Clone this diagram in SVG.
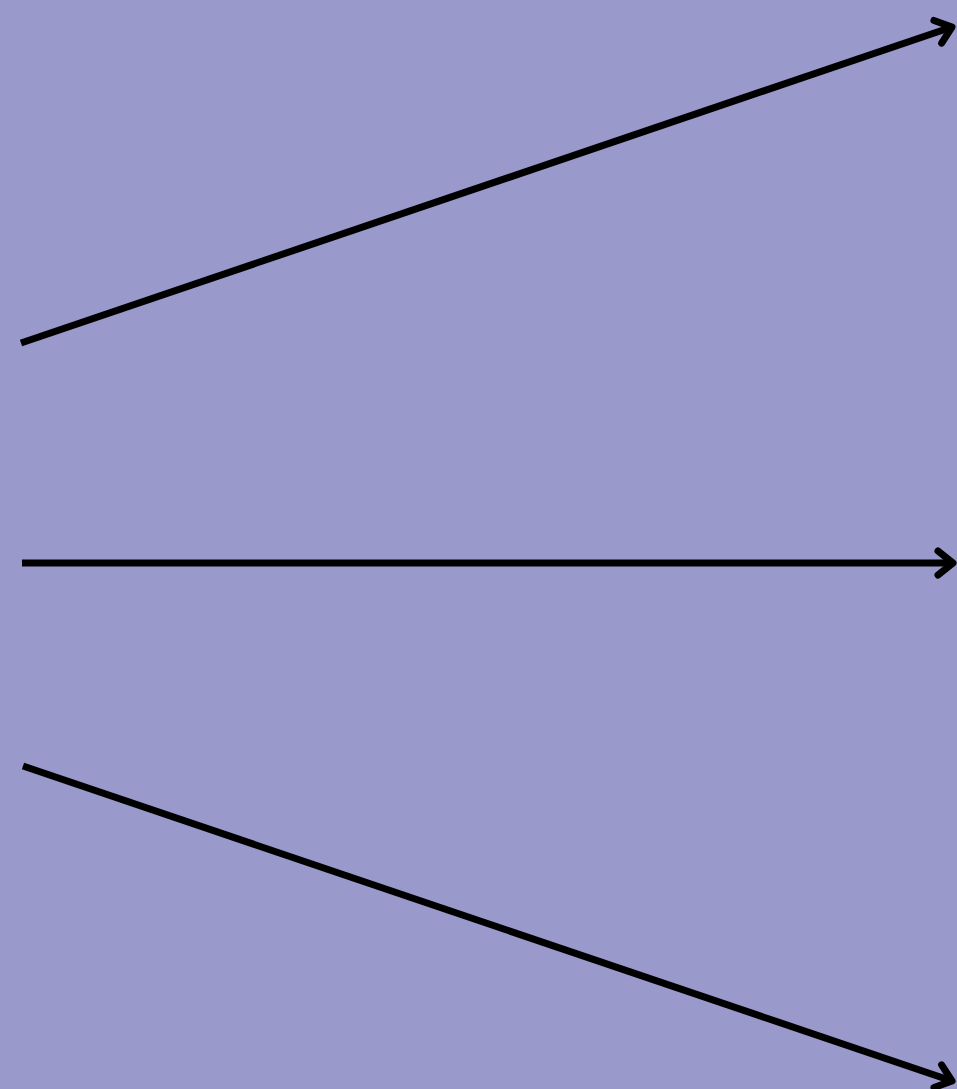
<svg xmlns="http://www.w3.org/2000/svg" width="957" height="1089" viewBox="0 0 957 1089">
<style>
.c{stroke:#000;stroke-width:7;fill:none}
</style>
<defs>
<marker id="ah" markerUnits="userSpaceOnUse" viewBox="-20 -16 24 32" refX="0" refY="0" markerWidth="24" markerHeight="32" orient="auto" overflow="visible">
<path d="M-15,-12 L0,0 L-15,12" fill="none" stroke="#000" stroke-width="7" stroke-linecap="round" stroke-linejoin="round"/>
</marker>
</defs>
<rect width="957" height="1089" fill="#9999cc"/>
<g id="connectors">
<line class="c" x1="21" y1="343" x2="952" y2="27" marker-end="url(#ah)"/>
<line class="c" x1="22" y1="563" x2="953" y2="563" marker-end="url(#ah)"/>
<line class="c" x1="23" y1="766" x2="952" y2="1081" marker-end="url(#ah)"/>
</g>
</svg>
